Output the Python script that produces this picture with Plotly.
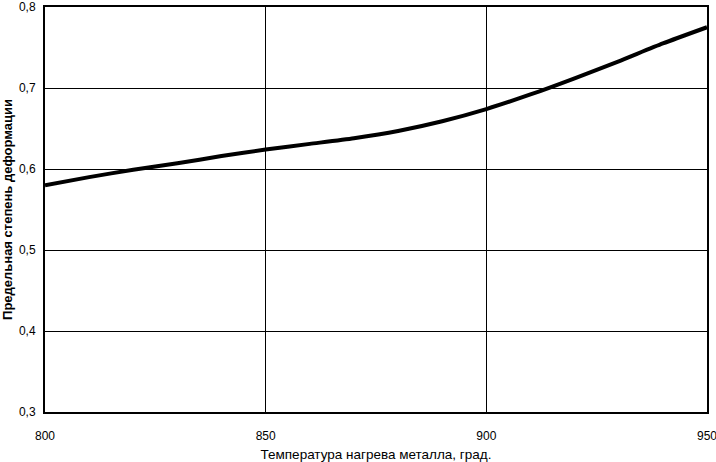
import plotly.graph_objects as go

# Температура нагрева металла, град.
temperature = [800, 810, 820, 830, 840, 850, 860, 870, 880, 890, 900, 910, 920, 930, 940, 950]
# Предельная степень деформации
deformation = [0.580, 0.590, 0.599, 0.607, 0.616, 0.624, 0.631, 0.638, 0.647, 0.659,
               0.674, 0.692, 0.712, 0.733, 0.755, 0.775]

x_ticks = [800, 850, 900, 950]
y_ticks = [0.3, 0.4, 0.5, 0.6, 0.7, 0.8]

FONT = "Liberation Sans, Arial, sans-serif"

fig = go.Figure()
fig.add_trace(go.Scatter(
    x=temperature,
    y=deformation,
    mode="lines",
    line=dict(color="black", width=4, shape="spline", smoothing=0.6),
    showlegend=False,
))

fig.update_layout(
    width=716,
    height=462,
    margin=dict(l=45, r=9, t=7, b=50),
    paper_bgcolor="white",
    plot_bgcolor="white",
    separators=", ",
    font=dict(family=FONT, color="black", size=12),
)

fig.update_xaxes(
    range=[800, 950],
    tickvals=x_ticks,
    tickfont=dict(size=12),
    ticks="",
    ticklabelstandoff=12,
    ticklabeloverflow="allow",
    automargin=False,
    showgrid=True,
    gridcolor="black",
    gridwidth=1,
    showline=True,
    linecolor="black",
    linewidth=2,
    mirror=True,
    zeroline=False,
    title=dict(text="Температура нагрева металла, град.", font=dict(size=13.5), standoff=10),
)
fig.update_yaxes(
    range=[0.3, 0.8],
    tickvals=y_ticks,
    tickformat=".1f",
    tickfont=dict(size=12),
    ticks="",
    ticklabelstandoff=5,
    ticklabeloverflow="allow",
    automargin=False,
    showgrid=True,
    gridcolor="black",
    gridwidth=1,
    showline=True,
    linecolor="black",
    linewidth=2,
    mirror=True,
    zeroline=False,
    title=dict(text="<b>Предельная степень деформации</b>", font=dict(size=13), standoff=4),
)

# the page body has a default 8px margin; drop it so the figure fills the window
fig.write_html(
    "out.html",
    config={"displayModeBar": False},
    post_script="document.body.style.margin = '0';",
)
